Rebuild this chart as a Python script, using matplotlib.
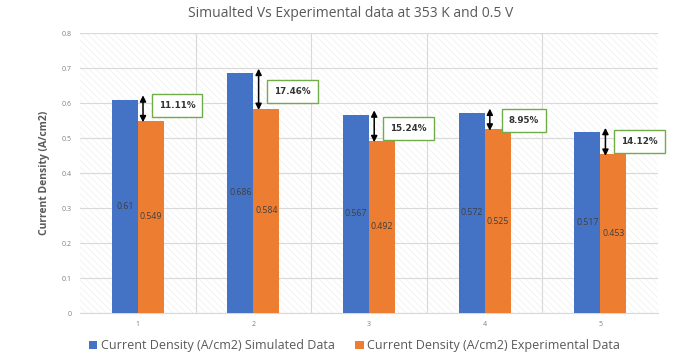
import numpy as np
import matplotlib
matplotlib.use("Agg")
import matplotlib.pyplot as plt
from matplotlib.patches import Rectangle

plt.rcParams['font.family'] = ['Open Sans', 'DejaVu Sans']
plt.rcParams['hatch.linewidth'] = 0.4

cases = [1, 2, 3, 4, 5]
simulated = [0.61, 0.686, 0.567, 0.572, 0.517]
experimental = [0.549, 0.584, 0.492, 0.525, 0.453]
errors = ['11.11%', '17.46%', '15.24%', '8.95%', '14.12%']
box_y = [0.593, 0.633, 0.527, 0.551, 0.489]

blue = '#4472C4'
orange = '#ED7D31'
grey = '#595959'

fig = plt.figure(figsize=(6.95, 3.64), dpi=100)
ax = fig.add_axes([0.1151, 0.1401, 0.8317, 0.7692])

x = np.array(cases, dtype=float)
w = 0.225

# patterned plot background
ax.add_patch(Rectangle((0.5, 0), 5, 0.8, facecolor='white', edgecolor='#ececec',
                       hatch='\\\\\\\\\\', linewidth=0, zorder=0))

ax.bar(x - w / 2, simulated, w, color=blue, zorder=3,
       label='Current Density (A/cm2) Simulated Data')
ax.bar(x + w / 2, experimental, w, color=orange, zorder=3,
       label='Current Density (A/cm2) Experimental Data')

for i in range(len(cases)):
    ax.text(x[i] - w / 2, simulated[i] / 2, str(simulated[i]), ha='center', va='center',
            fontsize=6.3, color='#404040', zorder=4)
    ax.text(x[i] + w / 2, experimental[i] / 2, str(experimental[i]), ha='center', va='center',
            fontsize=6.3, color='#404040', zorder=4)
    ax.annotate('', xy=(x[i] + 0.045, simulated[i] + 0.012), xytext=(x[i] + 0.045, experimental[i] - 0.004),
                arrowprops=dict(arrowstyle='<|-|>', color='black', lw=1.1,
                                mutation_scale=9, shrinkA=0, shrinkB=0), zorder=5)
    ax.text(x[i] + 0.34, box_y[i], errors[i], ha='center', va='center', fontsize=6.3,
            fontweight='bold', color='#333333', family=['DejaVu Sans'], zorder=6, clip_on=False,
            bbox=dict(boxstyle='square,pad=0.8', facecolor='white', edgecolor='#70AD47', lw=1.0))

ax.set_xlim(0.5, 5.5)
ax.set_ylim(0, 0.8)
ax.set_yticks(np.arange(0, 0.81, 0.1))
ax.set_yticklabels(['0', '0.1', '0.2', '0.3', '0.4', '0.5', '0.6', '0.7', '0.8'])
ax.set_xticks(cases)
ax.set_xticks([1.5, 2.5, 3.5, 4.5], minor=True)
ax.tick_params(axis='both', which='both', length=0, labelsize=5, colors='#808080', pad=6)
ax.grid(axis='y', color='#d9d9d9', lw=0.8, zorder=1)
ax.grid(axis='x', which='minor', color='#d9d9d9', lw=0.8, zorder=1)
for s in ['top', 'right', 'left']:
    ax.spines[s].set_visible(False)
ax.spines['bottom'].set_color('#d9d9d9')

ax.set_ylabel('Current Density (A/cm2)', fontsize=7.5, fontweight='bold', color=grey, labelpad=8)
fig.text(0.505, 0.962, 'Simualted Vs Experimental data at 353 K and 0.5 V', ha='center', va='center',
         fontsize=10, color=grey)

fig.legend(loc='center', bbox_to_anchor=(0.51, 0.05), ncol=2, frameon=False, fontsize=9,
           handlelength=0.7, handleheight=0.7, handletextpad=0.3, columnspacing=1.6,
           labelcolor=grey)

fig.savefig('out.png', dpi=100)
